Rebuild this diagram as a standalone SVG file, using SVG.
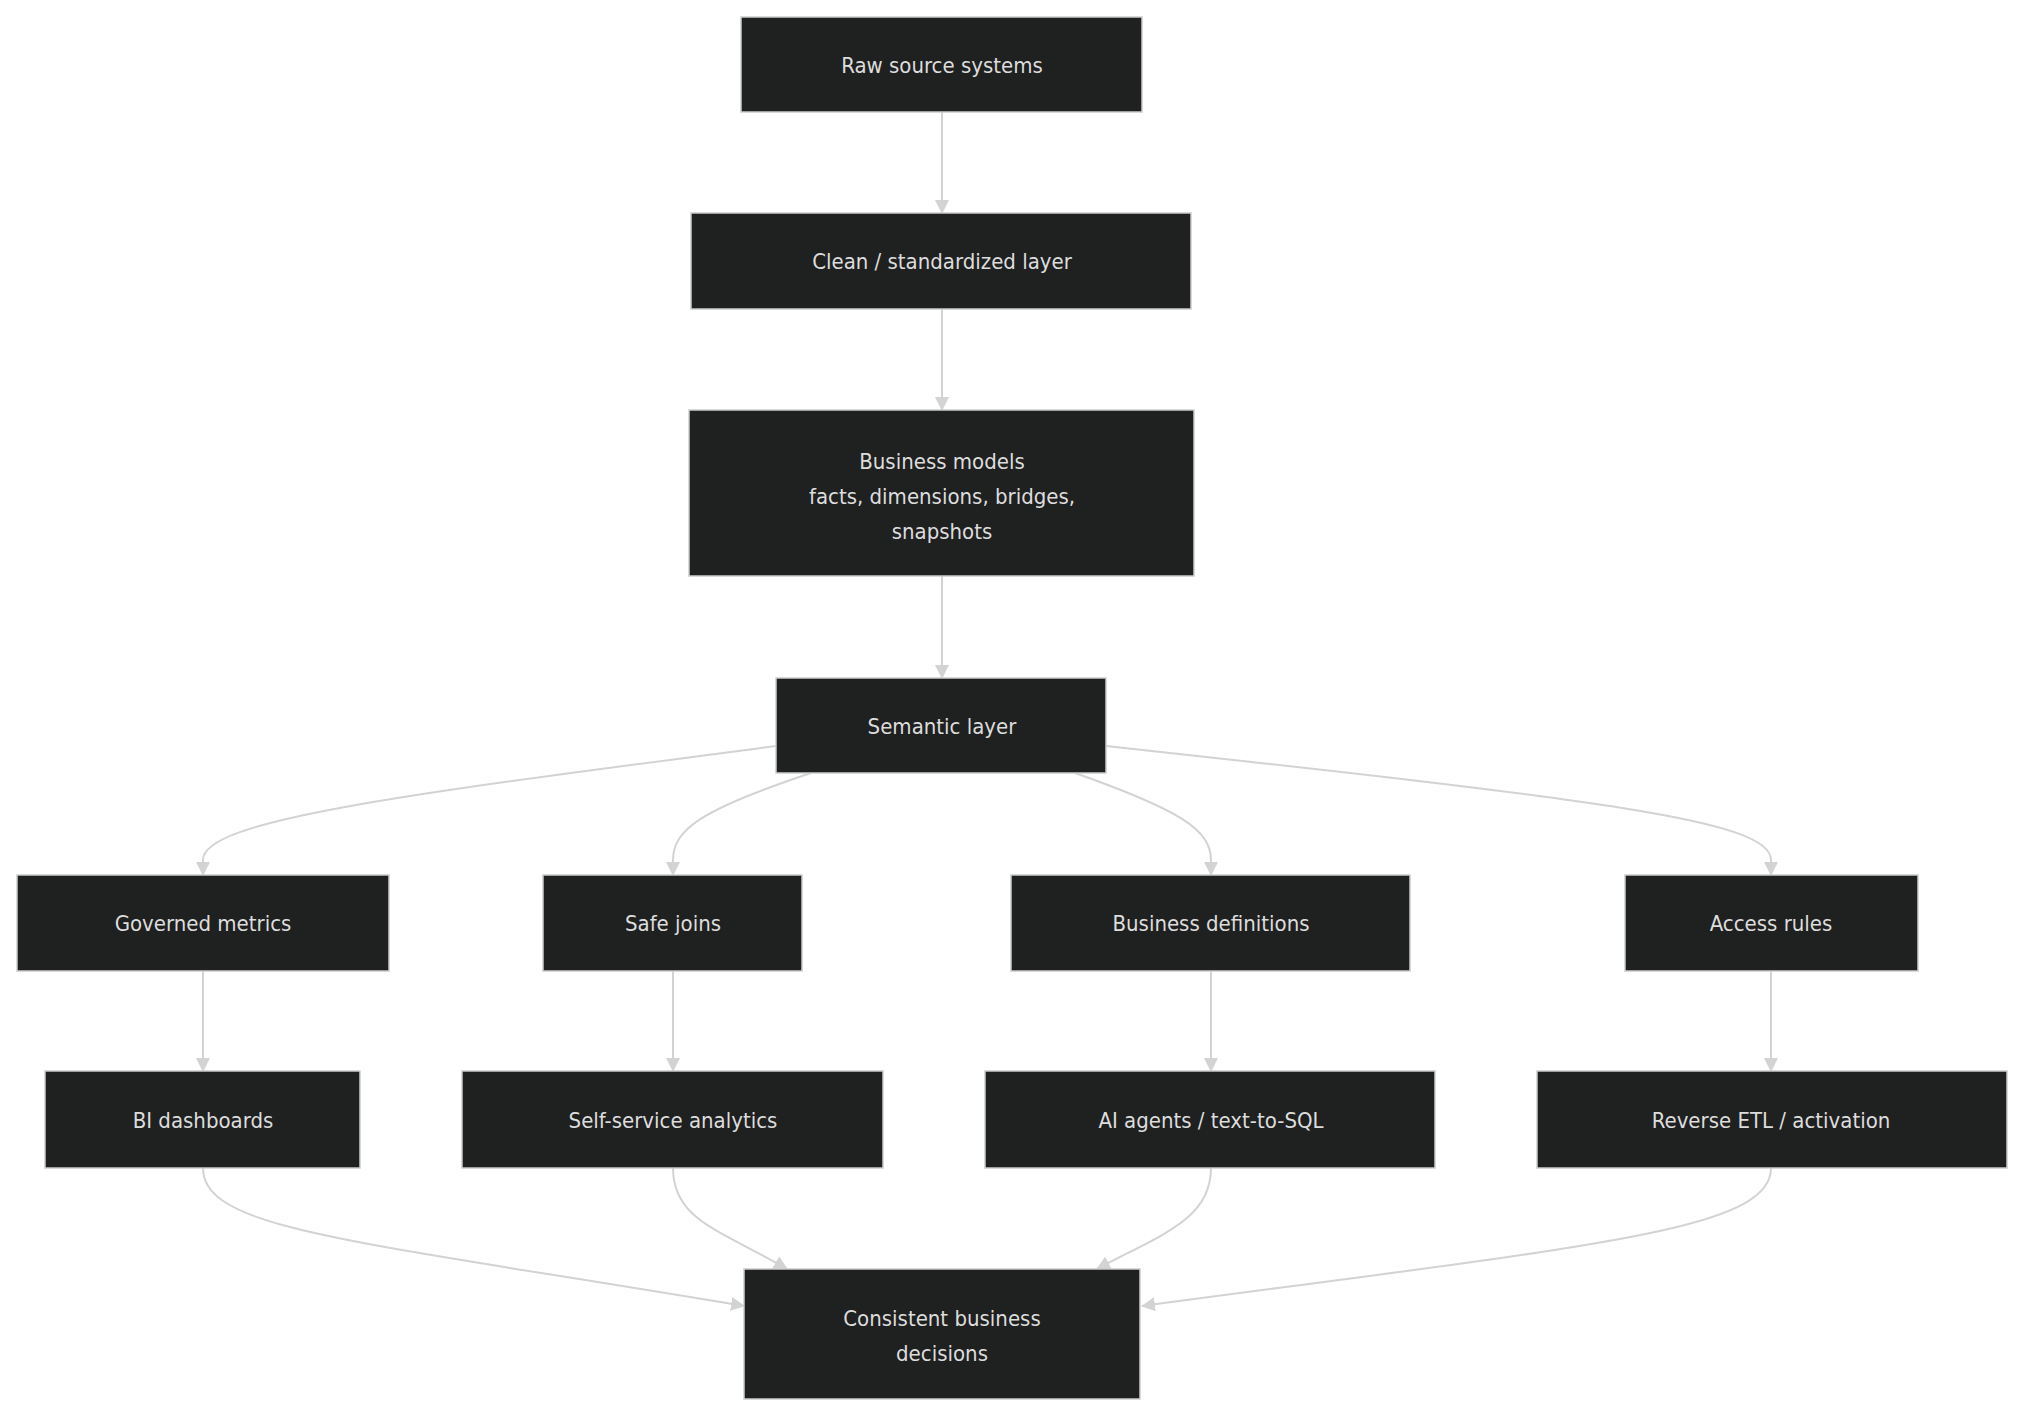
<svg xmlns="http://www.w3.org/2000/svg" width="2024" height="1417" viewBox="0 0 2024 1417">
<style>
.n rect{fill:#1f2020;stroke:#cccccc;stroke-width:1.5}
.n text{fill:#dddddd;font-family:"DejaVu Sans Condensed","DejaVu Sans",sans-serif;font-size:22px;text-anchor:middle;dominant-baseline:central}
.e path{fill:none;stroke:#d3d3d3;stroke-width:2;marker-end:url(#a)}
</style>
<defs><marker id="a" markerUnits="userSpaceOnUse" markerWidth="14" markerHeight="14" refX="13" refY="7" orient="auto"><path d="M0,0L14,7L0,14z" fill="#d3d3d3"/></marker></defs>
<rect width="2024" height="1417" fill="#fff"/>
<g id="edges" class="e">
<path d="M942,112L942,213"/>
<path d="M942,309L942,410"/>
<path d="M942,576L942,678"/>
<path d="M776,746C400,795 203,820 203,860L203,875"/>
<path d="M811,773C700,810 673,830 673,860L673,875"/>
<path d="M1075,773C1180,810 1211,830 1211,860L1211,875"/>
<path d="M1106,746C1600,800 1771,820 1771,860L1771,875"/>
<path d="M203,971L203,1071"/>
<path d="M673,971L673,1071"/>
<path d="M1211,971L1211,1071"/>
<path d="M1771,971L1771,1071"/>
<path d="M203,1168C203,1230 350,1240 744,1306"/>
<path d="M673,1168C673,1220 720,1230 787,1269"/>
<path d="M1211,1168C1211,1220 1160,1235 1097,1269"/>
<path d="M1771,1168C1771,1230 1600,1245 1142,1306"/>
</g>
<g id="raw" class="n"><rect x="741" y="17" width="401" height="95"/><text x="942" y="65">Raw source systems</text></g>
<g id="clean" class="n"><rect x="691" y="213" width="500" height="96"/><text x="942" y="261">Clean / standardized layer</text></g>
<g id="models" class="n"><rect x="689" y="410" width="505" height="166"/><text x="942" y="461">Business models</text><text x="942" y="496">facts, dimensions, bridges,</text><text x="942" y="531">snapshots</text></g>
<g id="semantic" class="n"><rect x="776" y="678" width="330" height="95"/><text x="942" y="726">Semantic layer</text></g>
<g id="metrics" class="n"><rect x="17" y="875" width="372" height="96"/><text x="203" y="923">Governed metrics</text></g>
<g id="joins" class="n"><rect x="543" y="875" width="259" height="96"/><text x="673" y="923">Safe joins</text></g>
<g id="defs" class="n"><rect x="1011" y="875" width="399" height="96"/><text x="1211" y="923">Business definitions</text></g>
<g id="access" class="n"><rect x="1625" y="875" width="293" height="96"/><text x="1771" y="923">Access rules</text></g>
<g id="bi" class="n"><rect x="45" y="1071" width="315" height="97"/><text x="203" y="1120">BI dashboards</text></g>
<g id="self" class="n"><rect x="462" y="1071" width="421" height="97"/><text x="673" y="1120">Self-service analytics</text></g>
<g id="ai" class="n"><rect x="985" y="1071" width="450" height="97"/><text x="1211" y="1120">AI agents / text-to-SQL</text></g>
<g id="retl" class="n"><rect x="1537" y="1071" width="470" height="97"/><text x="1771" y="1120">Reverse ETL / activation</text></g>
<g id="decisions" class="n"><rect x="744" y="1269" width="396" height="130"/><text x="942" y="1318">Consistent business</text><text x="942" y="1353">decisions</text></g>
</svg>
